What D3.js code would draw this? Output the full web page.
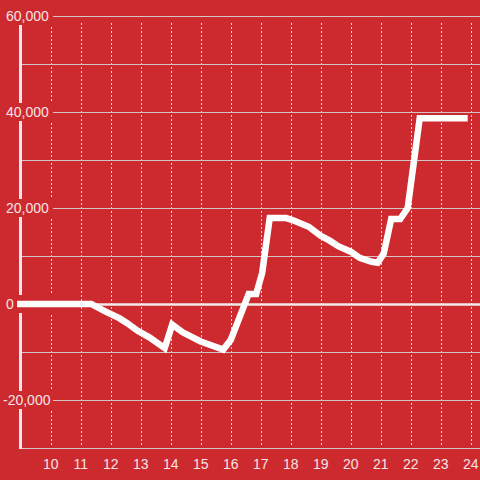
<!DOCTYPE html>
<html>
<head>
<meta charset="utf-8">
<script src="https://cdn.jsdelivr.net/npm/d3@7"></script>
<style>
  html, body { margin: 0; padding: 0; background: #cc2a2f; }
  svg { display: block; font-family: "Liberation Sans", Arial, sans-serif; }
</style>
</head>
<body>
<div id="chart"></div>
<script>
// values
const days = [8.88, 11.35, 11.8, 12.3, 12.55, 12.9, 13.3, 13.8, 14.05, 14.4, 15.0, 15.3, 15.75, 16.0,
  16.6, 16.85, 17.05, 17.3, 17.85, 18.1, 18.6, 19.0, 19.3, 19.6, 20.0, 20.3, 20.7, 20.9, 21.1,
  21.35, 21.65, 21.9, 22.3, 23.9];
const values = [0, 0, -1500, -3000, -4000, -5600, -7000, -9200, -4300, -5900, -7800, -8500, -9500, -7500,
  2100, 2100, 6500, 17900, 17900, 17400, 16100, 14200, 13200, 12000, 10900, 9600, 8800, 8600, 10500,
  17700, 17700, 20000, 38700, 38700];
const xTicks = [10, 11, 12, 13, 14, 15, 16, 17, 18, 19, 20, 21, 22, 23, 24];
const yGrid = [-20000, -10000, 10000, 20000, 30000, 40000, 50000, 60000];
const yLabels = [-20000, 0, 20000, 40000, 60000];

const W = 480, H = 480;
const svg = d3.select('#chart').append('svg')
    .attr('width', W).attr('height', H);

svg.append('rect').attr('width', W).attr('height', H).attr('fill', '#cc2a2f');

const x = d3.scaleLinear().domain([9, 24]).range([20.7, 470.7]);
const y = d3.scaleLinear().domain([-30000, 60000]).range([448, 16]);

// vertical dashed grid
svg.append('g').selectAll('line')
    .data(xTicks)
    .join('line')
    .attr('x1', d => Math.round(x(d)) + 0.5)
    .attr('x2', d => Math.round(x(d)) + 0.5)
    .attr('y1', 23)
    .attr('y2', 447)
    .attr('stroke', '#e8d8d8')
    .attr('stroke-width', 1)
    .attr('stroke-dasharray', '2,2');

// horizontal grid
svg.append('g').selectAll('line')
    .data(yGrid)
    .join('line')
    .attr('x1', 20)
    .attr('x2', W)
    .attr('y1', d => Math.round(y(d)) + 0.5)
    .attr('y2', d => Math.round(y(d)) + 0.5)
    .attr('stroke', '#d4c4c4')
    .attr('stroke-width', 1);

// bottom axis line
svg.append('line')
    .attr('x1', 20).attr('x2', W)
    .attr('y1', 448.5).attr('y2', 448.5)
    .attr('stroke', '#d4c4c4');

// zero line
svg.append('line')
    .attr('x1', 20).attr('x2', W)
    .attr('y1', y(0) + 0.5).attr('y2', y(0) + 0.5)
    .attr('stroke', '#f2eaea')
    .attr('stroke-width', 2.5);

// y axis line
svg.append('line')
    .attr('x1', 20.5).attr('x2', 20.5)
    .attr('y1', 24).attr('y2', 449)
    .attr('stroke', '#f2eaea')
    .attr('stroke-width', 3);

// y labels with background
const yl = svg.append('g').selectAll('g')
    .data(yLabels)
    .join('g')
    .attr('transform', d => 'translate(0,' + y(d) + ')');

yl.append('rect')
    .attr('x', 2)
    .attr('y', -9)
    .attr('width', 51)
    .attr('height', 18)
    .attr('fill', '#cc2a2f');

yl.append('text')
    .attr('x', d => d < 0 ? 3 : 6)
    .attr('dy', '0.35em')
    .attr('fill', '#f5e4e4')
    .style('font-size', '14px')
    .text(d => d3.format(',')(d).replace('−', '-'));

// x labels
svg.append('g').selectAll('text')
    .data(xTicks)
    .join('text')
    .attr('x', d => x(d))
    .attr('y', 464)
    .attr('dy', '0.35em')
    .attr('text-anchor', 'middle')
    .attr('fill', '#f5e4e4')
    .style('font-size', '14px')
    .text(d => d);

// data line
const line = d3.line()
    .x((d, i) => x(days[i]))
    .y(d => y(d));

svg.append('path')
    .datum(values)
    .attr('fill', 'none')
    .attr('stroke', '#ffffff')
    .attr('stroke-width', 6.5)
    .attr('stroke-linejoin', 'miter')
    .attr('d', line);
</script>
</body>
</html>
